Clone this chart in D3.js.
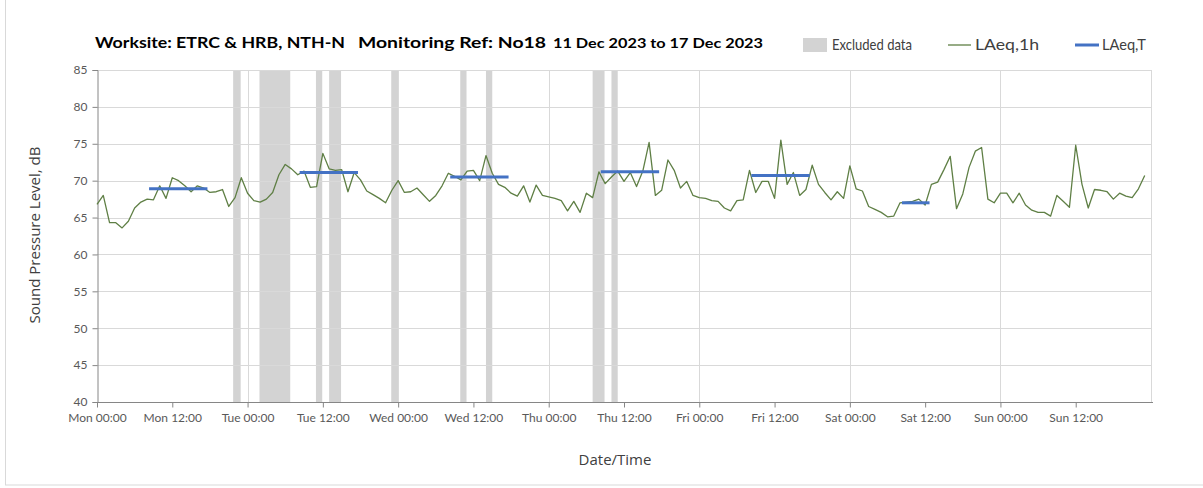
<!DOCTYPE html>
<html>
<head>
<meta charset="utf-8">
<script src="https://cdn.jsdelivr.net/npm/d3@7"></script>
<style>
  html, body { margin: 0; padding: 0; background: #ffffff; }
  svg { display: block; font-family: Lato, "Open Sans", sans-serif; }
</style>
</head>
<body>
<svg id="chart" width="1203" height="488"></svg>
<script>
// Hourly LAeq,1h readings from Mon 00:00 (hour 0) to Sun 23:00 (hour 167)
const laeq1h = [
  66.8, 68.0, 64.3, 64.3, 63.6, 64.5, 66.3, 67.1, 67.5, 67.4, 69.3, 67.6,
  70.4, 70.0, 69.3, 68.5, 69.3, 69.0, 68.4, 68.5, 68.8, 66.5, 67.7, 70.4,
  68.3, 67.3, 67.1, 67.5, 68.4, 70.8, 72.2, 71.6, 70.8, 71.3, 69.1, 69.2,
  73.7, 71.6, 71.4, 71.5, 68.5, 71.1, 70.1, 68.6, 68.1, 67.6, 67.0, 68.7,
  70.0, 68.4, 68.5, 69.0, 68.1, 67.2, 68.0, 69.3, 71.0, 70.6, 70.1, 71.3,
  71.4, 70.0, 73.4, 71.0, 69.5, 69.1, 68.3, 67.9, 69.3, 67.1, 69.4, 68.0,
  67.8, 67.6, 67.3, 65.9, 67.2, 65.7, 68.3, 67.7, 71.2, 69.6, 70.5, 71.3,
  69.9, 71.1, 69.2, 71.3, 75.2, 68.0, 68.7, 72.8, 71.4, 69.0, 69.9, 68.0,
  67.7, 67.6, 67.3, 67.2, 66.3, 65.9, 67.3, 67.4, 71.4, 68.4, 69.9, 69.9,
  67.6, 75.5, 69.5, 71.1, 68.0, 68.8, 72.1, 69.5, 68.4, 67.4, 68.5, 67.6,
  72.0, 68.9, 68.6, 66.5, 66.1, 65.7, 65.1, 65.2, 67.0, 67.1, 67.2, 67.5,
  66.7, 69.5, 69.8, 71.5, 73.3, 66.2, 68.2, 71.8, 74.0, 74.5, 67.5, 67.0,
  68.3, 68.3, 67.0, 68.3, 66.7, 66.0, 65.7, 65.7, 65.2, 68.0, 67.2, 66.4,
  74.8, 69.5, 66.3, 68.8, 68.7, 68.5, 67.5, 68.3, 67.9, 67.7, 68.9, 70.7
];

// LAeq,T over the daytime assessment periods (day index, start/end hour of day)
const periodDay   = [0, 1, 2, 3, 4, 5];
const periodStart = [8.3, 8.3, 8.3, 8.3, 8.3, 8.3];
const periodEnd   = [17.6, 17.6, 17.6, 17.6, 17.6, 12.7];
const laeqT       = [68.9, 71.1, 70.5, 71.2, 70.7, 67.0];

// Excluded periods, hours from Mon 00:00
const excludedStart = [21.7, 25.9, 34.9, 37.0, 46.9, 57.9, 62.0, 79.0, 82.0];
const excludedEnd   = [22.9, 30.8, 35.9, 38.9, 48.0, 58.9, 63.0, 80.9, 83.0];

// Axis labels
const dayNames = ["Mon", "Tue", "Wed", "Thu", "Fri", "Sat", "Sun"];
const tickHours = d3.range(0, 168, 12);
const yTicks = [40, 45, 50, 55, 60, 65, 70, 75, 80, 85];

const siteText = "Worksite: ETRC & HRB, NTH-N";
const refText = "Monitoring Ref: No18";
const dateText = "11 Dec 2023 to 17 Dec 2023";

const svg = d3.select("#chart");
const W = 1203;
const plot = { left: 97, right: 1151, top: 70, bottom: 402 };

// Outer chart border
svg.append("rect")
  .attr("x", 5.5).attr("y", -1).attr("width", W + 2).attr("height", 486)
  .attr("fill", "none").attr("stroke", "#d9d9d9");

const x = d3.scaleLinear().domain([0, 168]).range([plot.left, plot.right]);
const y = d3.scaleLinear().domain([40, 85]).range([plot.bottom, plot.top]);

// Excluded-data bands
svg.append("g").selectAll("rect")
  .data(excludedStart.map((s, i) => ({ s, e: excludedEnd[i] })))
  .join("rect")
  .attr("x", d => x(d.s))
  .attr("width", d => x(d.e) - x(d.s))
  .attr("y", y(85))
  .attr("height", y(40) - y(85))
  .attr("fill", "#d3d3d3");

// Horizontal gridlines
svg.append("g").selectAll("line")
  .data(yTicks.filter(v => v > 40))
  .join("line")
  .attr("x1", plot.left).attr("x2", plot.right)
  .attr("y1", d => Math.round(y(d)) + 0.5).attr("y2", d => Math.round(y(d)) + 0.5)
  .attr("stroke", "#d9d9d9").attr("stroke-width", 1);

// Vertical gridlines at each midnight
svg.append("g").selectAll("line")
  .data(d3.range(24, 169, 24))
  .join("line")
  .attr("x1", d => Math.round(x(d)) + 0.5).attr("x2", d => Math.round(x(d)) + 0.5)
  .attr("y1", plot.top).attr("y2", plot.bottom)
  .attr("stroke", "#d9d9d9").attr("stroke-width", 1);

// Y axis
const yAxis = d3.axisLeft(y).tickValues(yTicks).tickSize(5).tickPadding(5).tickFormat(d3.format("d"));
const gy = svg.append("g")
  .attr("transform", `translate(${plot.left + 0.5},0)`)
  .call(yAxis);
gy.select(".domain").attr("stroke", "#868686");
gy.selectAll(".tick line").attr("stroke", "#868686");
gy.selectAll(".tick text").attr("fill", "#595959").style("font-size", "12px").style("font-family", "Lato, sans-serif");

// X axis
const xAxis = d3.axisBottom(x).tickValues(tickHours).tickSize(5).tickPadding(6)
  .tickFormat(h => `${dayNames[Math.floor(h / 24)]} ${h % 24 === 0 ? "00:00" : "12:00"}`);
const gx = svg.append("g")
  .attr("transform", `translate(0,${plot.bottom + 0.5})`)
  .call(xAxis);
gx.select(".domain").attr("stroke", "#868686").attr("d", `M${plot.left},0H${plot.right + 2}`);
gx.selectAll(".tick line").attr("stroke", "#868686");
gx.selectAll(".tick text").attr("fill", "#595959").style("font-size", "12px").style("font-family", "Lato, sans-serif");

// LAeq,1h line
const line = d3.line().x((d, i) => x(i)).y(d => y(d));
svg.append("path")
  .datum(laeq1h)
  .attr("d", line)
  .attr("fill", "none")
  .attr("stroke", "#5f7f45")
  .attr("stroke-width", 1.3)
  .attr("stroke-linejoin", "round");

// LAeq,T segments
svg.append("g").selectAll("line")
  .data(laeqT.map((v, i) => ({ v, s: periodDay[i] * 24 + periodStart[i], e: periodDay[i] * 24 + periodEnd[i] })))
  .join("line")
  .attr("x1", d => x(d.s)).attr("x2", d => x(d.e))
  .attr("y1", d => y(d.v)).attr("y2", d => y(d.v))
  .attr("stroke", "#4472c4").attr("stroke-width", 3);

// Axis titles
svg.append("text")
  .attr("x", 615).attr("y", 465)
  .attr("text-anchor", "middle")
  .attr("fill", "#404040")
  .style("font-family", "'Open Sans', sans-serif")
  .style("font-size", "15px")
  .text("Date/Time");

svg.append("text")
  .attr("transform", "translate(40,235) rotate(-90)")
  .attr("text-anchor", "middle")
  .attr("fill", "#404040")
  .style("font-family", "'Open Sans', sans-serif")
  .style("font-size", "15px")
  .text("Sound Pressure Level, dB");

// Title
const title = svg.append("g").attr("fill", "#000").style("font-weight", "bold");
title.append("text")
  .attr("x", 95).attr("y", 48)
  .style("font-size", "15px")
  .attr("textLength", 250).attr("lengthAdjust", "spacingAndGlyphs")
  .text(siteText);
title.append("text")
  .attr("x", 358).attr("y", 48)
  .style("font-size", "15px")
  .attr("textLength", 188).attr("lengthAdjust", "spacingAndGlyphs")
  .text(refText);
title.append("text")
  .attr("x", 553).attr("y", 48)
  .style("font-size", "14px")
  .attr("textLength", 210).attr("lengthAdjust", "spacingAndGlyphs")
  .text(dateText);

// Legend
const legend = svg.append("g").attr("fill", "#404040").style("font-size", "15px");
legend.append("rect").attr("x", 803).attr("y", 38).attr("width", 24).attr("height", 14).attr("fill", "#d3d3d3");
legend.append("text").attr("x", 832).attr("y", 50)
  .attr("textLength", 80).attr("lengthAdjust", "spacingAndGlyphs").text("Excluded data");
legend.append("line").attr("x1", 948).attr("x2", 971).attr("y1", 45).attr("y2", 45)
  .attr("stroke", "#5f7f45").attr("stroke-width", 1.3);
legend.append("text").attr("x", 975).attr("y", 50)
  .attr("textLength", 64).attr("lengthAdjust", "spacingAndGlyphs").text("LAeq,1h");
legend.append("line").attr("x1", 1075).attr("x2", 1099).attr("y1", 45).attr("y2", 45)
  .attr("stroke", "#4472c4").attr("stroke-width", 3);
legend.append("text").attr("x", 1102).attr("y", 50)
  .attr("textLength", 44).attr("lengthAdjust", "spacingAndGlyphs").text("LAeq,T");
</script>
</body>
</html>
